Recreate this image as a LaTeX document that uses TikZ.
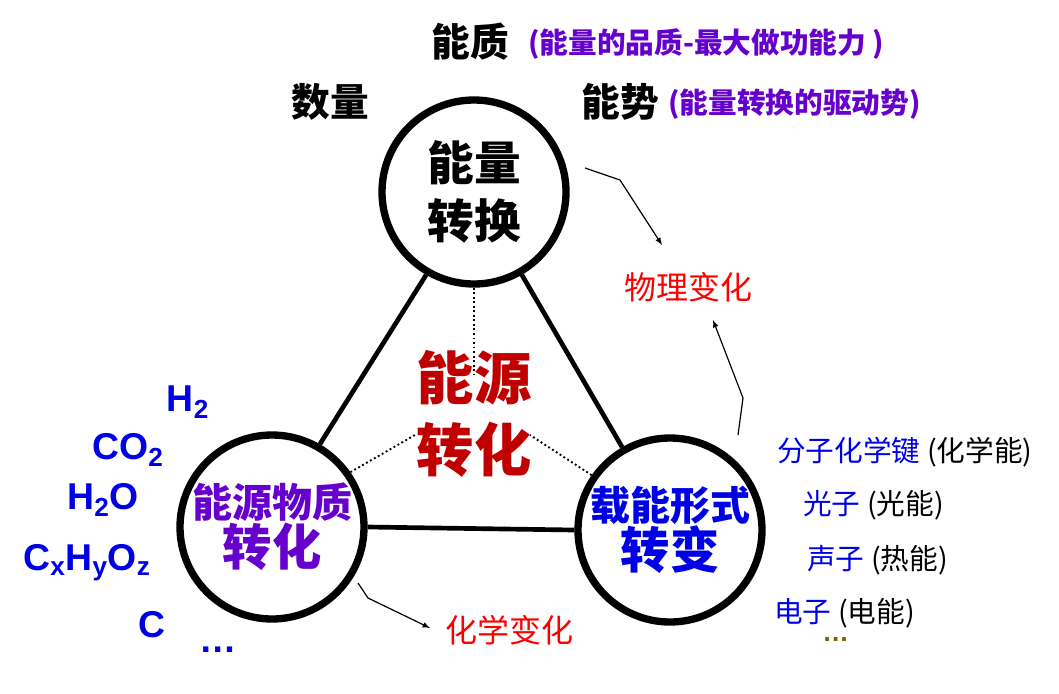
\documentclass[tikz,border=0pt]{standalone}
\usepackage{fontspec}
\setmainfont{Liberation Sans}
\newfontfamily\cjk{Noto Sans CJK SC}
\definecolor{pur}{RGB}{102,0,204}
\definecolor{dred}{RGB}{192,0,0}
\definecolor{bl}{RGB}{0,0,230}
\definecolor{brn}{RGB}{128,96,0}
\begin{document}
\begin{tikzpicture}[x=0.75pt,y=-0.75pt,
  circ/.style={circle,draw,line width=5.5pt,minimum size=184*0.75pt,inner sep=0pt,align=center},
  edge/.style={line width=3.5pt},
  dots/.style={dotted,line width=1.4pt},
  arr/.style={-latex,line width=0.9pt},
  t/.style={inner sep=0pt,font=\cjk\bfseries}]
\useasboundingbox (0,0) rectangle (1059,693);
\node[circ,font=\cjk\bfseries\fontsize{35}{44}\selectfont] (top) at (474,192) {能量\\转换};
\node[circ,font=\cjk\bfseries,text=pur] (left) at (272,527) {{\fontsize{30}{40}\selectfont 能源物质}\\{\fontsize{37}{46}\selectfont 转化}};
\node[circ,font=\cjk\bfseries,text=bl] (right) at (670,530) {{\fontsize{30}{40}\selectfont 载能形式}\\{\fontsize{37}{46}\selectfont 转变}};
\draw[edge] (top.240) -- (left.60);
\draw[edge] (top.300) -- (right.120);
\draw[edge] (left.east) -- (right.west);
\node[t,text=dred,font=\cjk\bfseries\fontsize{43}{54}\selectfont,align=center] (c) at (474,414) {能源\\转化};
\coordinate (d1) at (474,375); \coordinate (d2) at (415,435); \coordinate (d3) at (530,435);
\draw[dots] (top.south) -- (d1);
\draw[dots] (left.35) -- (d2);
\draw[dots] (right.145) -- (d3);
\node[t,font=\cjk\bfseries\fontsize{29}{32}\selectfont] (nz) at (470,42) {能质};
\node[t,anchor=west,text=pur,font=\cjk\bfseries\fontsize{21.5}{24}\selectfont] (nzl) at (528,44) {(能量的品质-最大做功能力 )};
\node[t,font=\cjk\bfseries\fontsize{29}{32}\selectfont] (sl) at (330,102) {数量};
\node[t,font=\cjk\bfseries\fontsize{29}{32}\selectfont] (ns) at (620,102) {能势};
\node[t,anchor=west,text=pur,font=\cjk\bfseries\fontsize{21.5}{24}\selectfont] (nsl) at (668,104) {(能量转换的驱动势)};
\node[t,text=red,font=\cjk\fontsize{24}{26}\selectfont] (wl) at (688,287) {物理变化};
\node[t,text=red,font=\cjk\fontsize{24}{26}\selectfont] (hx) at (509,630) {化学变化};
\coordinate (s1) at (585,168); \coordinate (a1) at (620,180); \coordinate (e1) at (662,245);
\coordinate (s2) at (738,435); \coordinate (a2) at (743,398); \coordinate (e2) at (713,320);
\coordinate (s3) at (358,583); \coordinate (a3) at (368,598); \coordinate (e3) at (430,628);
\draw[arr] (s1) -- (a1) -- (e1);
\draw[arr] (s2) -- (a2) -- (e2);
\draw[arr] (s3) -- (a3) -- (e3);
\begin{scope}[every node/.style={t,text=bl,font=\bfseries\fontsize{28}{30}\selectfont}]
\node (h2) at (188,402) {H$_\mathbf{2}$};
\node (co2) at (128,450) {CO$_\mathbf{2}$};
\node (h2o) at (103,500) {H$_\mathbf{2}$O};
\node (cx) at (87,563) {C$_\mathbf{x}$H$_\mathbf{y}$O$_\mathbf{z}$};
\node (cc) at (152,625) {C};
\node (ld) at (218,650) {…};
\end{scope}
\begin{scope}[every node/.style={t,anchor=west,font=\cjk\fontsize{21.5}{24}\selectfont}]
\node (r1) at (777,452) {\textcolor{bl}{分子化学键} (化学能)};
\node (r2) at (803,505) {\textcolor{bl}{光子} (光能)};
\node (r3) at (807,560) {\textcolor{bl}{声子} (热能)};
\node (r4) at (774,613) {\textcolor{bl}{电子} (电能)};
\node[text=brn,font=\bfseries\fontsize{20}{22}\selectfont] (r5) at (822,640) {…};
\end{scope}
\end{tikzpicture}
\end{document}
